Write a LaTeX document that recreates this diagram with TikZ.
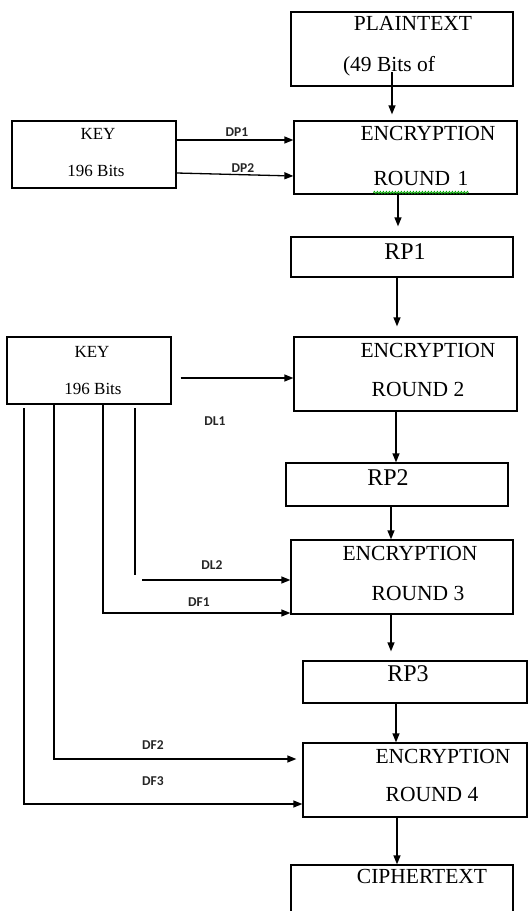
\documentclass[tikz,border=0pt]{standalone}
\usepackage{fontspec}
\setmainfont{Liberation Serif}
\newfontfamily\lblfont{Carlito}
\usetikzlibrary{arrows.meta,decorations.pathmorphing}

\tikzset{
  box/.style={draw, line width=1.3pt, rectangle, inner sep=0pt},
  boxtxt/.style={inner sep=0pt, text height=0.66em, text depth=0pt, font=\fontsize{21.5}{21.5}\selectfont},
  rptxt/.style={inner sep=0pt, text height=0.66em, text depth=0pt, font=\fontsize{24}{24}\selectfont},
  keytxt/.style={inner sep=0pt, text height=0.66em, text depth=0pt, font=\fontsize{17}{17}\selectfont},
  lbl/.style={inner sep=0pt, text height=0.64em, text depth=0pt, font=\lblfont\bfseries\fontsize{13.5}{13.5}\selectfont, text=black!85},
  arr/.style={line width=1.3pt, -{Triangle[length=9pt,width=7pt]}},
  wire/.style={line width=1.3pt}
}

\begin{document}
\begin{tikzpicture}[x=1pt, y=-1pt]
\useasboundingbox (0,0) rectangle (529,911);
\begin{scope}
\clip (0,0) rectangle (529,911);

% ---- boxes ----
\node[box, minimum width=222pt, minimum height=74pt] (plain)  at (402,49)    {};
\node[box, minimum width=223pt, minimum height=73pt] (enc1)   at (405.5,157.5) {};
\node[box, minimum width=164pt, minimum height=67pt] (key1)   at (94,154.5)  {};
\node[box, minimum width=222pt, minimum height=40pt] (rp1)    at (402,257)   {};
\node[box, minimum width=223pt, minimum height=74pt] (enc2)   at (405.5,374) {};
\node[box, minimum width=164pt, minimum height=67pt] (key2)   at (89,370.5)  {};
\node[box, minimum width=222pt, minimum height=43pt] (rp2)    at (397,484.5) {};
\node[box, minimum width=222pt, minimum height=74pt] (enc3)   at (402,577)   {};
\node[box, minimum width=224pt, minimum height=42pt] (rp3)    at (415,682)   {};
\node[box, minimum width=224pt, minimum height=74pt] (enc4)   at (415,780)   {};
\node[box, minimum width=222pt, minimum height=65pt] (cipher) at (402,897.5) {};

% ---- box texts ----
\node[boxtxt] at (413,27)  {PLAINTEXT};
\node[boxtxt] at (389,68)  {(49 Bits of};
\node[boxtxt] at (428,137) {ENCRYPTION};
\node[boxtxt] (r1) at (421,182) {ROUND\hspace{0.35em}1};
\draw[green!65!black, line width=0.8pt, decorate,
      decoration={snake, amplitude=1.1pt, segment length=3pt}]
  ([yshift=-7pt]r1.south west) -- ([yshift=-7pt]r1.south east);
\node[keytxt] at (98,136)  {KEY};
\node[keytxt] at (96,173)  {196 Bits};
\node[rptxt]  at (405,256) {RP1};
\node[boxtxt] at (428,354) {ENCRYPTION};
\node[boxtxt] at (418,393) {ROUND 2};
\node[keytxt] at (92,354)  {KEY};
\node[keytxt] at (93,391)  {196 Bits};
\node[rptxt]  at (388,482) {RP2};
\node[boxtxt] at (410,557) {ENCRYPTION};
\node[boxtxt] at (418,597) {ROUND 3};
\node[rptxt]  at (408,678) {RP3};
\node[boxtxt] at (443,760) {ENCRYPTION};
\node[boxtxt] at (432,798) {ROUND 4};
\node[boxtxt] at (422,880) {CIPHERTEXT};

% ---- main vertical flow ----
\coordinate (p0) at (392,72);
\draw[arr, shorten >=6pt] (p0) -- (p0 |- enc1.north);
\coordinate (e1s) at ([xshift=-7.5pt]enc1.south);
\draw[arr, shorten >=10pt] (e1s) -- (e1s |- rp1.north);
\coordinate (r1s) at ([xshift=-5pt]rp1.south);
\draw[arr, shorten >=10pt] (r1s) -- (r1s |- enc2.north);
\coordinate (e2s) at ([xshift=-9.5pt]enc2.south);
\draw[arr] (e2s) -- (e2s |- rp2.north);
\coordinate (r2s) at ([xshift=-6pt]rp2.south);
\draw[arr] (r2s) -- (r2s |- enc3.north);
\coordinate (e3s) at ([xshift=-11pt]enc3.south);
\draw[arr, shorten >=9pt] (e3s) -- (e3s |- rp3.north);
\coordinate (r3s) at ([xshift=-19pt]rp3.south);
\draw[arr] (r3s) -- (r3s |- enc4.north);
\coordinate (e4s) at ([xshift=-18pt]enc4.south);
\draw[arr] (e4s) -- (e4s |- cipher.north);

% ---- first key ----
\draw[arr] ([yshift=14.5pt]key1.east) -- ([yshift=17.5pt]enc1.west);
\draw[arr] ([yshift=-18.5pt]key1.east) -- ([yshift=-18.5pt]enc1.west);
\node[lbl] at (237,133) {DP1};
\node[lbl] at (243,169) {DP2};

% ---- second key ----
\coordinate (k2e) at ([yshift=-7.5pt]key2.east);
\draw[arr, shorten <=9pt] (k2e) -- (k2e -| enc2.west);
\node[lbl] at (215,422) {DL1};

% DL2
\coordinate (dl2a) at (135,408);
\coordinate (dl2b) at (135,575);
\draw[wire] (dl2a) -- (dl2b);
\coordinate (dl2c) at (142,580);
\draw[arr] (dl2c) -- (dl2c -| enc3.west);
\node[lbl] at (212,566) {DL2};

% DF1
\coordinate (df1a) at (103,0);
\coordinate (df1b) at ([yshift=-36pt]enc3.west);
\draw[arr] (df1a |- key2.south) |- (df1b);
\node[lbl] at (199,603) {DF1};

% DF2
\coordinate (df2a) at (54,0);
\coordinate (df2b) at ([yshift=21pt]enc4.west);
\draw[arr, shorten >=6pt] (df2a |- key2.south) |- (df2b);
\node[lbl] at (153,746) {DF2};

% DF3
\coordinate (df3a) at (24,408);
\coordinate (df3b) at ([yshift=-24pt]enc4.west);
\draw[arr] (df3a) |- (df3b);
\node[lbl] at (153,782) {DF3};

\end{scope}
\end{tikzpicture}
\end{document}
